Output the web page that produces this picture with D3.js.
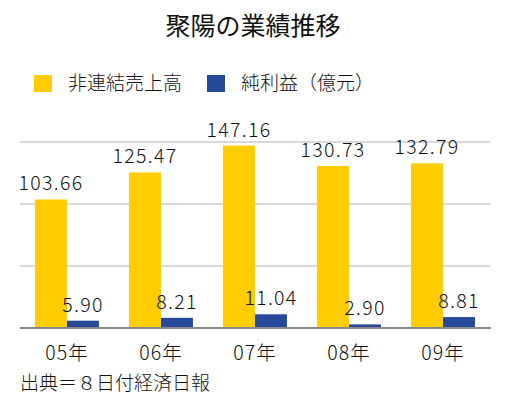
<!DOCTYPE html>
<html><head><meta charset="utf-8">
<script src="https://cdn.jsdelivr.net/npm/d3@7"></script>
<style>body{margin:0;background:#fff}</style>
</head><body>
<script>
const categories = ["05年","06年","07年","08年","09年"];
const sales = [103.66,125.47,147.16,130.73,132.79];
const profit = [5.90,8.21,11.04,2.90,8.81];
const seriesNames = ["非連結売上高","純利益（億元）"];
const yTicks = [50,100,150];
const title = "聚陽の業績推移";
const source = "出典＝８日付経済日報";

const W=508,H=399;
const font = "'Noto Sans CJK JP', sans-serif";
const colors = ["#FFCC00","#26499A"];
const svg = d3.select("body").append("svg").attr("width",W).attr("height",H).style("font-family",font);

const x0 = d3.scaleBand().domain(categories).range([20,490]).paddingInner(0.32).paddingOuter(0.16);
const x1 = d3.scaleBand().domain([0,1]).range([0,x0.bandwidth()]);
const y = d3.scaleLinear().domain([0,150]).range([328,142]);

svg.append("g").selectAll("line").data(yTicks).join("line")
  .attr("x1",20).attr("x2",490).attr("y1",d=>y(d)).attr("y2",d=>y(d))
  .attr("stroke","#cccccc").attr("stroke-width",1.5);

const data = categories.map((c,i)=>({c, v:[sales[i],profit[i]]}));
const g = svg.append("g").selectAll("g").data(data).join("g").attr("transform",d=>`translate(${x0(d.c)},0)`);
g.selectAll("rect").data(d=>d.v.map((v,k)=>({v,k}))).join("rect")
  .attr("x",d=>x1(d.k)).attr("width",x1.bandwidth())
  .attr("y",d=>y(d.v)).attr("height",d=>y(0)-y(d.v)).attr("fill",d=>colors[d.k]);
g.selectAll("text").data(d=>d.v.map((v,k)=>({v,k}))).join("text")
  .attr("x",d=>x1(d.k)+x1.bandwidth()/2).attr("y",d=>y(d.v)-9)
  .attr("text-anchor","middle").attr("font-size",19.5).attr("font-weight",300)
  .attr("letter-spacing",1.3).attr("fill","#111")
  .text(d=>d.v.toFixed(2));

svg.append("line").attr("x1",20).attr("x2",491).attr("y1",y(0)).attr("y2",y(0)).attr("stroke","#888").attr("stroke-width",2);

const xAxis = d3.axisBottom(x0).tickSize(0).tickPadding(0);
const ax = svg.append("g").attr("transform",`translate(0,${y(0)})`).call(xAxis);
ax.select(".domain").remove();
ax.selectAll("text").attr("font-family",font).attr("font-size",19.5).attr("font-weight",300).attr("fill","#111")
  .attr("letter-spacing",1).attr("dy",null).attr("y",32);

svg.append("text").attr("x",253).attr("y",35).attr("text-anchor","middle").attr("font-size",25).attr("font-weight",400).attr("fill","#111").text(title);

const lx = [34,207];
seriesNames.forEach((n,i)=>{
  svg.append("rect").attr("x",lx[i]).attr("y",75).attr("width",18).attr("height",17).attr("fill",colors[i]);
  svg.append("text").attr("x",lx[i]+34).attr("y",90).attr("font-size",19).attr("font-weight",300).attr("fill","#111").text(n);
});

svg.append("text").attr("x",20).attr("y",390).attr("font-size",19).attr("font-weight",300).attr("fill","#111").text(source);
</script>
</body></html>
